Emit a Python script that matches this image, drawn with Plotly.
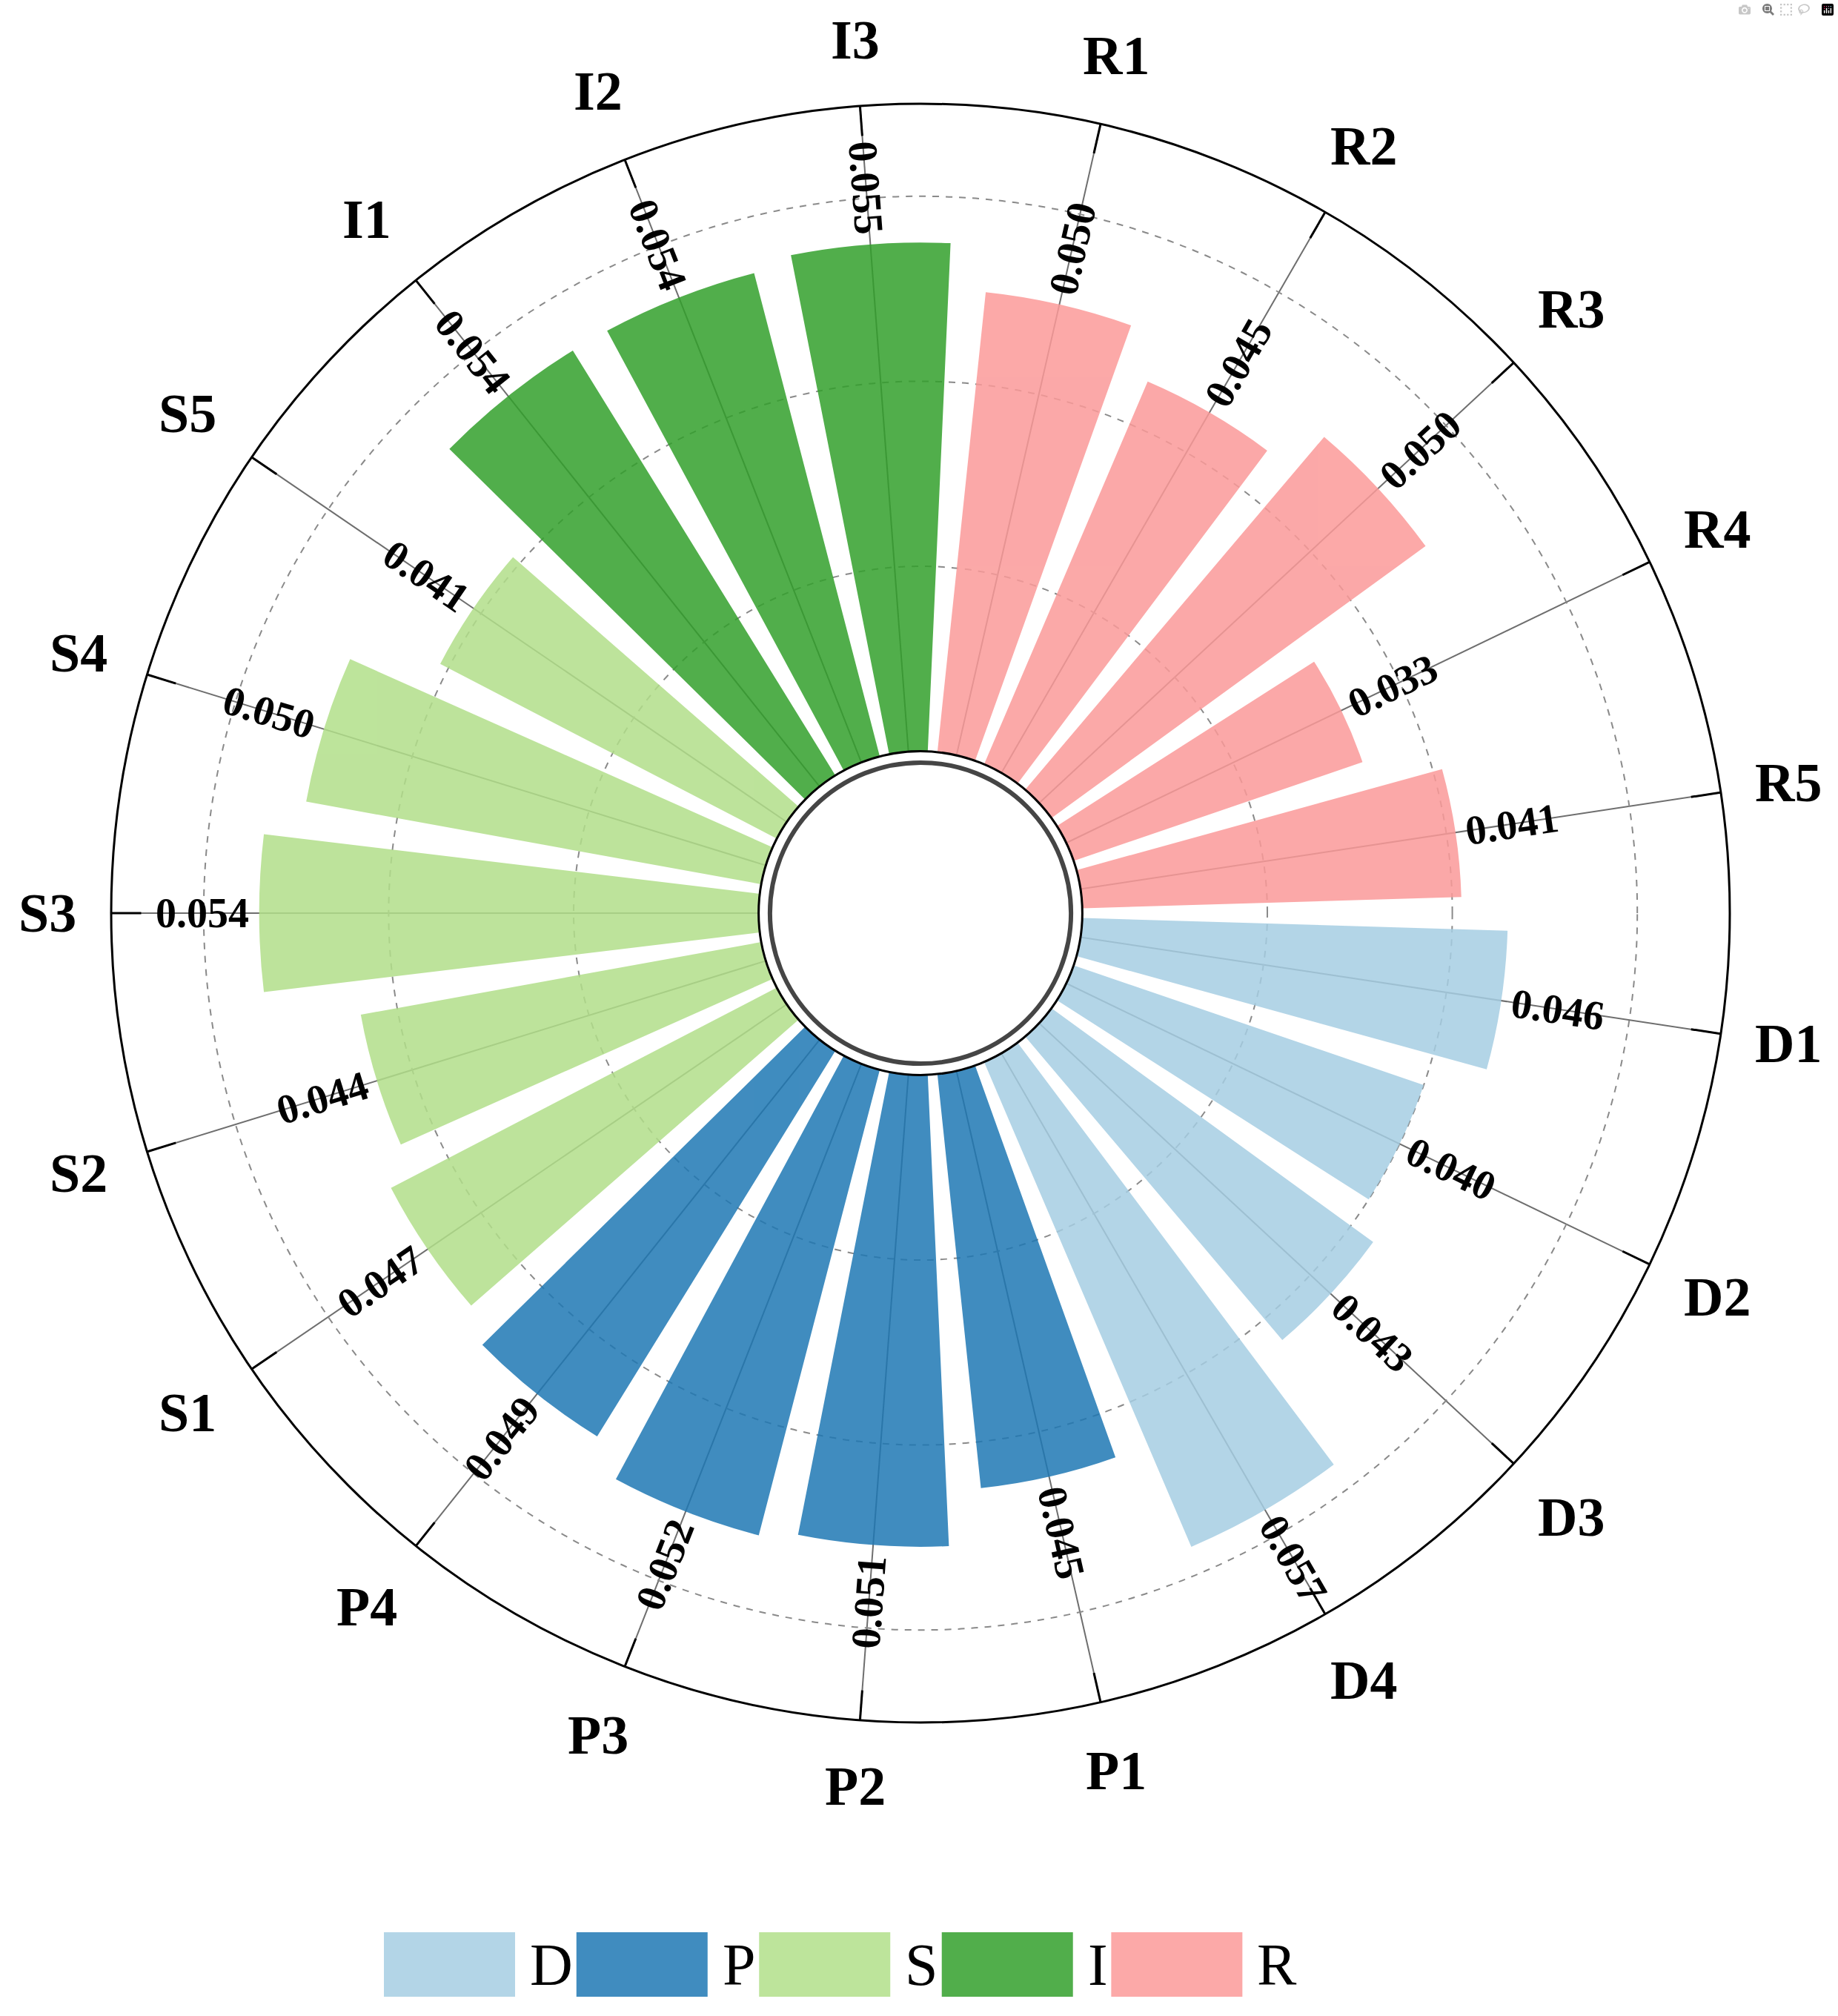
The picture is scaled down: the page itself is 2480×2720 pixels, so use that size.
import math
import plotly.graph_objects as go

# ---------------- data ----------------
categories = ["D1", "D2", "D3", "D4", "P1", "P2", "P3", "P4", "S1", "S2", "S3",
              "S4", "S5", "I1", "I2", "I3", "R1", "R2", "R3", "R4", "R5"]
values = [0.046, 0.040, 0.043, 0.057, 0.045, 0.051, 0.052, 0.049, 0.047, 0.044, 0.054,
          0.050, 0.041, 0.054, 0.054, 0.055, 0.050, 0.045, 0.050, 0.033, 0.041]
groups = ["D"] * 4 + ["P"] * 4 + ["S"] * 5 + ["I"] * 3 + ["R"] * 5
group_names = ["D", "P", "S", "I", "R"]
group_colors = ["#a6cee3", "#1f78b4", "#b2df8a", "#33a02c", "#fb9a99"]
radial_ticks = [0, 0.02, 0.04, 0.06]
r_max = 0.07

# ---------------- layout constants ----------------
W, H = 2480, 2720
CX, CY, RAD = 1242, 1232, 1092          # polar centre / radius in pixels
HOLE = 0.2
FONT = "Liberation Serif"
n = len(categories)
step = 360.0 / n
theta = [i * step for i in range(n)]
rotation = -step / 2

dom_x = [(CX - RAD) / W, (CX + RAD) / W]
dom_y = [1 - (CY + RAD) / H, 1 - (CY - RAD) / H]

fig = go.Figure()
for g, col in zip(group_names, group_colors):
    idx = [i for i, gg in enumerate(groups) if gg == g]
    fig.add_trace(go.Barpolar(
        r=[values[i] for i in idx],
        theta=[theta[i] for i in idx],
        width=[step * 0.8] * len(idx),
        marker=dict(color=col, line=dict(width=0)),
        opacity=0.85,
        name=g,
        showlegend=False,
        subplot="polar",
    ))

# dummy trace to show the inner tick marks on an overlay polar
fig.add_trace(go.Scatterpolar(r=[0], theta=[0], mode="markers",
                              marker=dict(opacity=0), showlegend=False,
                              hoverinfo="skip", subplot="polar2"))

angular_common = dict(rotation=rotation, direction="clockwise", tickmode="array",
                      tickvals=theta, ticktext=categories)

fig.update_layout(
    width=W, height=H,
    margin=dict(l=0, r=0, t=0, b=0),
    paper_bgcolor="white",
    polar=dict(
        domain=dict(x=dom_x, y=dom_y),
        hole=HOLE,
        bgcolor="white",
        radialaxis=dict(range=[0, r_max], tickmode="array", tickvals=radial_ticks,
                        showticklabels=False, ticks="", showline=False,
                        gridcolor="#8a8a8a", gridwidth=2, griddash="dash"),
        angularaxis=dict(**angular_common, showticklabels=False, ticks="",
                         showline=True, linecolor="black", linewidth=3,
                         gridcolor="#6e6e6e", gridwidth=1.6),
    ),
    polar2=dict(
        domain=dict(x=dom_x, y=dom_y),
        hole=HOLE,
        bgcolor="rgba(0,0,0,0)",
        radialaxis=dict(range=[0, r_max], visible=False),
        angularaxis=dict(**angular_common, showticklabels=False, showgrid=False,
                         showline=False, ticks="inside", ticklen=40,
                         tickwidth=2.5, tickcolor="black"),
    ),
)

cx_p = (dom_x[0] + dom_x[1]) / 2
cy_p = (dom_y[0] + dom_y[1]) / 2
hole_px = HOLE * RAD
annotations = []

# ---------------- category labels (on a ring outside the axis) ----------------
for i, cat in enumerate(categories):
    phi = math.radians(rotation - theta[i])
    label_r = 1178 + 20 * abs(math.sin(2 * phi))
    annotations.append(dict(x=cx_p + label_r * math.cos(phi) / W,
                            y=cy_p + label_r * math.sin(phi) / H,
                            xref="paper", yref="paper", text=cat, showarrow=False,
                            xanchor="center", yanchor="middle",
                            font=dict(family=FONT, size=74, color="black", weight="bold")))

# ---------------- value labels (rotated along the spokes) ----------------
for i, v in enumerate(values):
    phi = rotation - theta[i]                      # screen angle, ccw from east
    r_px = hole_px + v / r_max * (RAD - hole_px) + 77
    x = cx_p + r_px * math.cos(math.radians(phi)) / W
    y = cy_p + r_px * math.sin(math.radians(phi)) / H
    if math.cos(math.radians(phi)) >= 0:
        ang = -phi
    else:
        ang = 180 - phi
    ang = (ang + 180) % 360 - 180
    annotations.append(dict(x=x, y=y, xref="paper", yref="paper", text=f"{v:.3f}",
                            showarrow=False, textangle=ang, xanchor="center",
                            yanchor="middle",
                            font=dict(family=FONT, size=56, color="black", weight="bold")))

# ---------------- legend (large swatches) ----------------
shapes = []
leg_font = 80
letter_w = {"D": 0.722, "P": 0.556, "S": 0.556, "I": 0.333, "R": 0.667}
sw_w, sw_top, sw_bot = 177, 2607, 2694
xpos = 518
for g, col in zip(group_names, group_colors):
    shapes.append(dict(type="rect", xref="paper", yref="paper",
                       x0=xpos / W, x1=(xpos + sw_w) / W,
                       y0=1 - sw_bot / H, y1=1 - sw_top / H,
                       fillcolor=col, opacity=0.85, line=dict(width=0)))
    tx = xpos + sw_w + 18
    annotations.append(dict(x=tx / W, y=1 - (sw_top + sw_bot) / 2 / H, xref="paper",
                            yref="paper", text=g, showarrow=False, xanchor="left",
                            yanchor="middle",
                            font=dict(family=FONT, size=leg_font, color="black")))
    xpos = tx + letter_w[g] * leg_font + 7

# thick inner ring around the hole
ring_r = hole_px * 0.93
shapes.append(dict(type="circle", xref="paper", yref="paper",
                   x0=(CX - ring_r) / W, x1=(CX + ring_r) / W,
                   y0=1 - (CY + ring_r) / H, y1=1 - (CY - ring_r) / H,
                   line=dict(color="#454545", width=6), fillcolor="white", layer="above"))

fig.update_layout(annotations=annotations, shapes=shapes)

fig.write_html("out.html",
               post_script="document.body.style.margin='0';document.body.style.overflow='hidden';")
